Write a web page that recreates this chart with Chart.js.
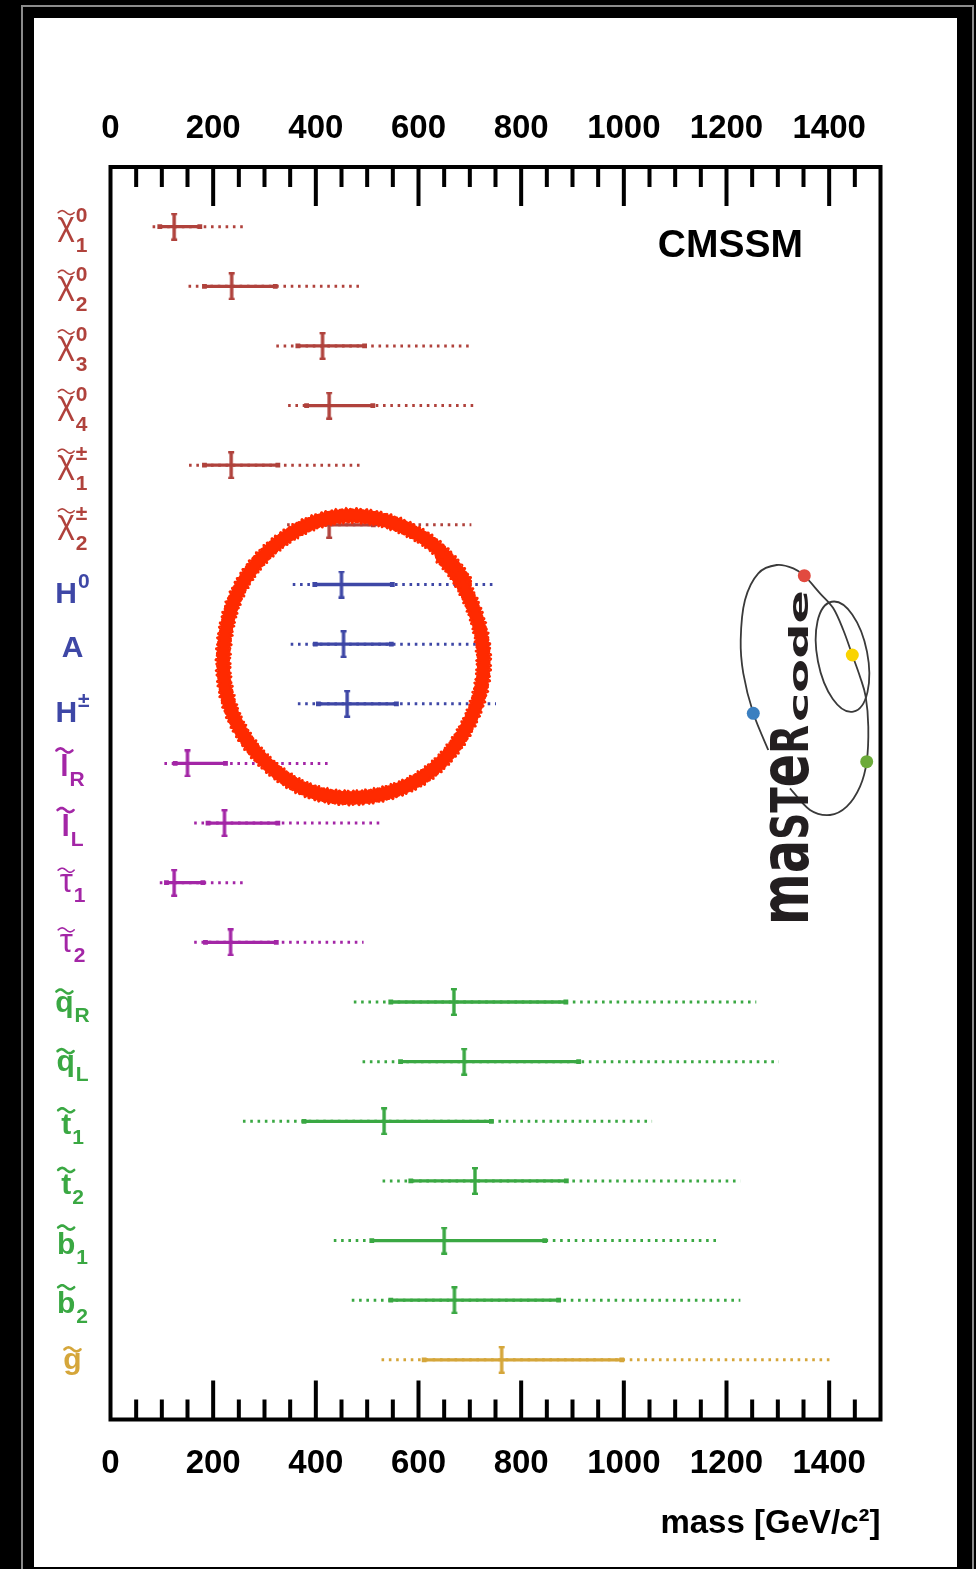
<!DOCTYPE html>
<html>
<head>
<meta charset="utf-8">
<title>CMSSM sparticle mass spectrum</title>
<script src="https://cdn.jsdelivr.net/npm/chart.js@4.4.1/dist/chart.umd.min.js"></script>
<style>
  html, body { margin: 0; padding: 0; background: #000; width: 976px; height: 1569px; overflow: hidden; }
  #edge { position: absolute; left: 21px; top: 5px; width: 949px; height: 1600px; border: 2px solid #8c8c8c; }
  #sheet { position: absolute; left: 34px; top: 18px; width: 923px; height: 1549px; background: #fff; }
  #plot { position: absolute; left: 0; top: 0; }
</style>
</head>
<body>
<div id="edge"></div>
<div id="sheet"></div>
<canvas id="plot" width="976" height="1569"></canvas>
<script>
// Particle rows, top to bottom
const rowLabels = ['χ','χ','χ','χ','χ','χ','H','A','H','l','l','τ','τ','q','q','t','t','b','b','g'];
const rowSubs   = ['1','2','3','4','1','2','','','','R','L','1','2','R','L','1','2','1','2',''];
const rowSups   = ['0','0','0','0','±','±','0','','±','','','','','','','','','','',''];
const rowGroups = ['gaugino','gaugino','gaugino','gaugino','gaugino','gaugino',
                   'higgs','higgs','higgs',
                   'slepton','slepton','slepton','slepton',
                   'squark','squark','squark','squark','squark','squark',
                   'gluino'];
const groupColors = { gaugino: '#b0423c', higgs: '#3e47a6', slepton: '#a326a6', squark: '#3aa843', gluino: '#d5a63a' };

// Mass ranges in GeV/c^2: 95% CL band, 68% CL band and best-fit value
const low95   = [ 82, 152, 323, 346, 153, 344, 355, 351, 365, 105, 163,  96, 163,  474,  491,  258,  530,  435,  470,  528];
const low68   = [ 96, 183, 365, 382, 183, 382, 398, 399, 405, 126, 190, 109, 185,  546,  565,  377,  585,  509,  546,  611];
const bestFit = [124, 236, 413, 426, 235, 426, 450, 454, 461, 150, 222, 124, 234,  669,  689,  533,  710,  650,  670,  762];
const high68  = [174, 321, 495, 511, 326, 512, 549, 547, 557, 224, 326, 180, 323,  887,  912,  742,  888,  846,  873,  996];
const high95  = [259, 484, 698, 707, 489, 703, 746, 745, 751, 428, 532, 265, 493, 1258, 1302, 1055, 1227, 1188, 1227, 1407];

const massTicks = [0, 200, 400, 600, 800, 1000, 1200, 1400];
const massMinorStep = 50;
const massMax = 1500;

const FONT = '"Liberation Sans", Arial, Helvetica, sans-serif';
Chart.defaults.font.family = FONT;

// Best-fit marker: vertical bar with small end caps
function makeMarker(color) {
  const c = document.createElement('canvas');
  c.width = 8; c.height = 28;
  const g = c.getContext('2d');
  g.fillStyle = color;
  g.fillRect(2.3, 1, 3.4, 26);
  g.fillRect(1, 0, 6, 2.4);
  g.fillRect(1, 25.6, 6, 2.4);
  return c;
}
const markers = {};
Object.keys(groupColors).forEach(k => { markers[k] = makeMarker(groupColors[k]); });

const datasets = [];
rowLabels.forEach((_, i) => {
  const col = groupColors[rowGroups[i]];
  datasets.push({
    type: 'line',
    data: [{ x: low95[i], y: i }, { x: high95[i], y: i }],
    borderColor: col, borderWidth: 3, borderDash: [2.6, 4.7], borderCapStyle: 'butt',
    pointRadius: 0, order: 2
  });
  datasets.push({
    type: 'line',
    data: [{ x: low68[i], y: i }, { x: high68[i], y: i }],
    borderColor: col, borderWidth: 3.3,
    pointStyle: 'rect', pointRadius: 3.4, pointBackgroundColor: col, pointBorderWidth: 0,
    order: 1
  });
});
datasets.push({
  type: 'scatter',
  data: bestFit.map((v, i) => ({ x: v, y: i })),
  pointStyle: ctx => markers[rowGroups[ctx.dataIndex]],
  order: 0
});

// Particle name with tilde, superscript and subscript
function drawParticle(ctx, base, sub, sup, color, cx, cy) {
  const greek = /[χτ]/.test(base);
  const baseFont = greek ? '33px ' + FONT : 'bold 30px ' + FONT;
  const scriptFont = 'bold 21px ' + FONT;
  const tilde = !/[HA]/.test(base);
  ctx.save();
  ctx.fillStyle = color; ctx.strokeStyle = color;
  ctx.textAlign = 'left'; ctx.textBaseline = 'alphabetic';
  ctx.font = baseFont;
  const m = ctx.measureText(base);
  const wb = m.width;
  ctx.font = scriptFont;
  const ws = Math.max(sub ? ctx.measureText(sub).width : 0, sup ? ctx.measureText(sup).width : 0);
  const gap = (sub || sup) ? 1 : 0;
  const left = cx - (wb + gap + ws) / 2;
  const hasDesc = /[qgχτ]/.test(base);
  let yb, ySub, ySup;
  if (sub && sup) { yb = cy + 8; ySub = cy + 25; ySup = cy - 5; }
  else if (sup) { yb = cy + 18; ySup = cy + 3; }
  else { yb = cy + (hasDesc ? 9.5 : 13); ySub = yb + 10; }
  ctx.font = baseFont;
  ctx.fillText(base, left, yb);
  if (tilde) {
    const top = yb - m.actualBoundingBoxAscent;
    const yc = top - 4;
    const w = 16, x0 = left + wb / 2 - w / 2;
    ctx.lineWidth = greek ? 1.6 : 2.6;
    ctx.lineCap = 'round';
    ctx.beginPath();
    for (let k = 0; k <= 24; k++) {
      const t = k / 24;
      const px = x0 + t * w, py = yc - 2 * Math.sin(2 * Math.PI * t);
      if (k === 0) ctx.moveTo(px, py); else ctx.lineTo(px, py);
    }
    ctx.stroke();
  }
  ctx.font = scriptFont;
  if (sup) ctx.fillText(sup, left + wb + gap, ySup);
  if (sub) ctx.fillText(sub, left + wb + gap, ySub);
  ctx.restore();
}

// Smooth curve through a list of points
function strokeSmooth(ctx, pts) {
  ctx.beginPath();
  ctx.moveTo(pts[0][0], pts[0][1]);
  for (let i = 0; i < pts.length - 1; i++) {
    const p0 = pts[Math.max(i - 1, 0)], p1 = pts[i], p2 = pts[i + 1], p3 = pts[Math.min(i + 2, pts.length - 1)];
    ctx.bezierCurveTo(p1[0] + (p2[0] - p0[0]) / 6, p1[1] + (p2[1] - p0[1]) / 6,
                      p2[0] - (p3[0] - p1[0]) / 6, p2[1] - (p3[1] - p1[1]) / 6, p2[0], p2[1]);
  }
  ctx.stroke();
}

function drawLogo(ctx) {
  ctx.save();
  ctx.filter = 'blur(0.5px)';
  ctx.strokeStyle = '#3a3a3a';
  ctx.lineWidth = 1.8;
  strokeSmooth(ctx, [
    [768.3, 750], [753.3, 713.3], [743.3, 673.3], [740.7, 640], [745, 600], [758.3, 573.3],
    [776.7, 565], [793.3, 568.3], [804.3, 575.7], [820, 593.3], [833.3, 608.3], [843.3, 630],
    [852.3, 655], [860, 676.7], [865.7, 696.7], [868.3, 726.7], [866.7, 761.7], [860, 786.7],
    [846.7, 806.7], [830, 815], [810, 810], [790, 788.3]
  ]);
  ctx.beginPath();
  ctx.ellipse(842.5, 656.7, 56, 25, 78.9 * Math.PI / 180, 0, 2 * Math.PI);
  ctx.stroke();
  [[804.3, 575.7, '#e24a3f'], [852.3, 655, '#f9d300'], [753.3, 713.3, '#3b7fc0'], [866.7, 761.7, '#6cab3a']]
    .forEach(([x, y, c]) => { ctx.fillStyle = c; ctx.beginPath(); ctx.arc(x, y, 6.5, 0, 2 * Math.PI); ctx.fill(); });

  // Wordmark, reading upwards
  ctx.fillStyle = '#231f20';
  ctx.textBaseline = 'alphabetic';
  ctx.textAlign = 'left';
  const fam = '"DejaVu Sans", sans-serif';
  const word = [['m', 67.6], ['a', 67.6], ['S', 50.8], ['T', 50.8], ['e', 67.6], ['R', 50.8]];
  let total = 0;
  word.forEach(([ch, sz]) => { ctx.font = 'bold ' + sz + 'px ' + fam; total += ctx.measureText(ch).width; });
  ctx.save();
  ctx.translate(808, 925);
  ctx.rotate(-Math.PI / 2);
  ctx.scale(200 / total, 1);
  let x = 0;
  word.forEach(([ch, sz]) => { ctx.font = 'bold ' + sz + 'px ' + fam; ctx.fillText(ch, x, 0); x += ctx.measureText(ch).width; });
  ctx.restore();

  ctx.save();
  ctx.translate(808, 722);
  ctx.rotate(-Math.PI / 2);
  ctx.font = 'bold 27px ' + fam;
  const cw = ctx.measureText('code').width;
  ctx.scale(132 / cw, 1);
  ctx.fillText('code', 0, 0);
  ctx.restore();
  ctx.restore();
}

// Hand-drawn red ring with a grainy brush edge
function drawRing(ctx) {
  const cx = 353.7, cy = 658.3, rx = 129, ry = 139;
  const t0 = -0.83, span = 2 * Math.PI + 0.28;
  ctx.save();
  ctx.strokeStyle = '#ff2a00';
  ctx.lineCap = 'round';
  ctx.lineJoin = 'round';
  const pass = (width, off, wob) => {
    ctx.lineWidth = width;
    ctx.beginPath();
    for (let k = 0; k <= 1440; k++) {
      const t = t0 + span * k / 1440;
      const dr = off + 3.5 * (k / 1440) + wob(t);
      const px = cx + (rx + dr) * Math.cos(t), py = cy + (ry + dr) * Math.sin(t);
      if (k === 0) ctx.moveTo(px, py); else ctx.lineTo(px, py);
    }
    ctx.stroke();
  };
  const slow = t => 0.6 * Math.sin(3 * t + 0.5) + 0.4 * Math.sin(7 * t + 1);
  pass(12, 0, slow);
  pass(2, 6, t => slow(t) + 1.0 * Math.sin(173 * t) + 0.8 * Math.sin(251 * t + 1));
  pass(2, -6, t => slow(t) + 1.0 * Math.sin(181 * t + 2) + 0.8 * Math.sin(263 * t));
  ctx.restore();
}

const decorations = {
  id: 'decorations',
  afterDatasetsDraw(chart) {
    drawRing(chart.ctx);
  },
  afterDraw(chart) {
    const ctx = chart.ctx;
    const { left, right, top, bottom } = chart.chartArea;
    const xs = chart.scales.x;
    ctx.save();
    // tick marks pointing into the frame
    ctx.strokeStyle = '#000';
    ctx.lineWidth = 4;
    ctx.beginPath();
    for (let v = massMinorStep; v < massMax; v += massMinorStep) {
      const px = xs.getPixelForValue(v);
      const len = massTicks.includes(v) ? 39 : 20;
      ctx.moveTo(px, top); ctx.lineTo(px, top + len);
      ctx.moveTo(px, bottom); ctx.lineTo(px, bottom - len);
    }
    ctx.stroke();
    ctx.strokeRect(left, top, right - left, bottom - top);

    ctx.fillStyle = '#000';
    ctx.font = 'bold 39px ' + FONT;
    ctx.textAlign = 'right';
    ctx.textBaseline = 'alphabetic';
    ctx.fillText('CMSSM', 803, 257);
    ctx.restore();

    const ys = chart.scales.y;
    rowLabels.forEach((base, i) => {
      drawParticle(ctx, base, rowSubs[i], rowSups[i], groupColors[rowGroups[i]], 72.5, ys.getPixelForValue(i));
    });
    drawLogo(ctx);
  }
};

const tickFont = { size: 33, weight: 'bold', lineHeight: 1.2 };
const massAxis = (position, pad, height) => ({
  type: 'linear', position, axis: 'x', min: 0, max: massMax,
  grid: { display: false, drawTicks: false },
  border: { display: false },
  afterBuildTicks: s => { s.ticks = massTicks.map(v => ({ value: v })); },
  ticks: { autoSkip: false, maxRotation: 0, minRotation: 0, padding: pad, color: '#000', font: tickFont,
           callback: v => String(v) },
  afterFit: s => { s.height = height; }
});

const bottomAxis = massAxis('bottom', 25, 149.5);
bottomAxis.title = { display: true, text: 'mass [GeV/c²]', align: 'end', color: '#000',
                     font: { size: 33, weight: 'bold', lineHeight: 1.2 }, padding: { top: 0, bottom: 25 } };

new Chart(document.getElementById('plot'), {
  type: 'line',
  data: { datasets },
  options: {
    responsive: false,
    animation: false,
    devicePixelRatio: 1,
    layout: { padding: { left: 110.5, right: 95.5, top: 0, bottom: 0 } },
    plugins: { legend: { display: false }, tooltip: { enabled: false } },
    scales: {
      x: bottomAxis,
      xTop: massAxis('top', 18, 167),
      y: { type: 'linear', min: -1, max: 20, reverse: true, display: false }
    }
  },
  plugins: [decorations]
});
</script>
</body>
</html>
